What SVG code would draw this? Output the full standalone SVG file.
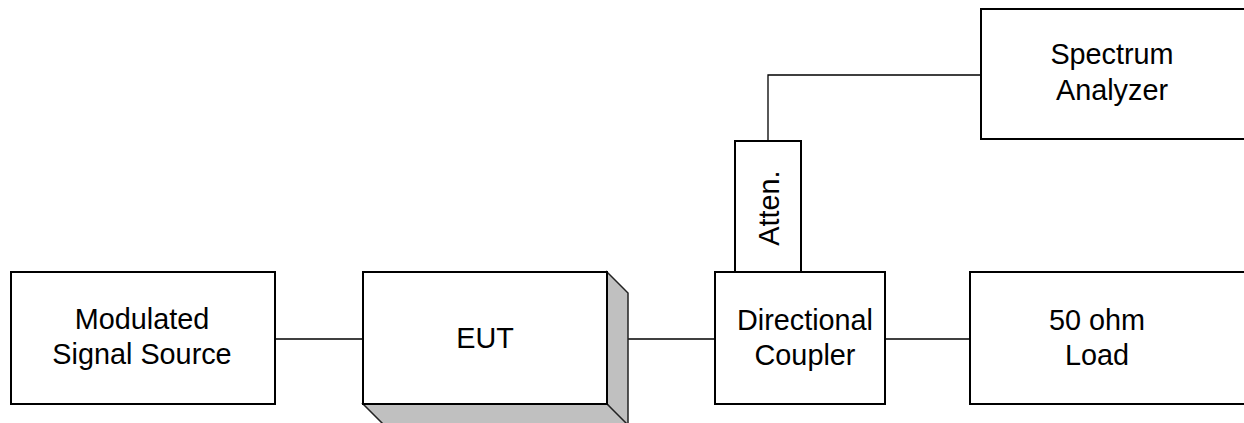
<svg xmlns="http://www.w3.org/2000/svg" width="1244" height="423" viewBox="0 0 1244 423">
  <style>
    .box { fill: #ffffff; stroke: #000000; stroke-width: 2; }
    .side { fill: #c0c0c0; stroke: #222222; stroke-width: 1.5; stroke-linejoin: miter; }
    .wire { fill: none; stroke: #000000; stroke-width: 1.3; }
    .lbl { font-family: "Liberation Sans", Arial, sans-serif; font-size: 28.8px; fill: #000000; text-anchor: middle; }
  </style>
  <rect width="1244" height="423" fill="#ffffff"/>

  <!-- connectors -->
  <g id="connectors">
    <line class="wire" x1="275" y1="339" x2="363" y2="339"/>
    <line class="wire" x1="628" y1="339" x2="715" y2="339"/>
    <line class="wire" x1="885" y1="339" x2="970" y2="339"/>
    <polyline class="wire" points="768,141 768,75 981,75"/>
  </g>

  <g id="source">
    <rect class="box" x="11" y="272" width="264" height="132"/>
    <text class="lbl" x="142" y="329">Modulated</text>
    <text class="lbl" x="142" y="364">Signal Source</text>
  </g>

  <g id="eut">
    <polygon class="side" points="607,272 628,293 628,430 607,404"/>
    <polygon class="side" points="363,404 607,404 628,425 384,425"/>
    <rect class="box" x="363" y="272" width="244" height="132"/>
    <text class="lbl" x="485" y="348">EUT</text>
  </g>

  <g id="coupler">
    <rect class="box" x="715" y="272" width="170" height="132"/>
    <text class="lbl" x="805" y="330">Directional</text>
    <text class="lbl" x="805" y="365">Coupler</text>
  </g>

  <g id="atten">
    <rect class="box" x="735" y="141" width="66" height="131"/>
    <text class="lbl" transform="translate(779,208) rotate(-90)">Atten.</text>
  </g>

  <g id="load">
    <rect class="box" x="970" y="272" width="290" height="132"/>
    <text class="lbl" x="1097" y="330">50 ohm</text>
    <text class="lbl" x="1097" y="365">Load</text>
  </g>

  <g id="analyzer">
    <rect class="box" x="981" y="9" width="280" height="130"/>
    <text class="lbl" x="1112" y="64">Spectrum</text>
    <text class="lbl" x="1112" y="100">Analyzer</text>
  </g>
</svg>
